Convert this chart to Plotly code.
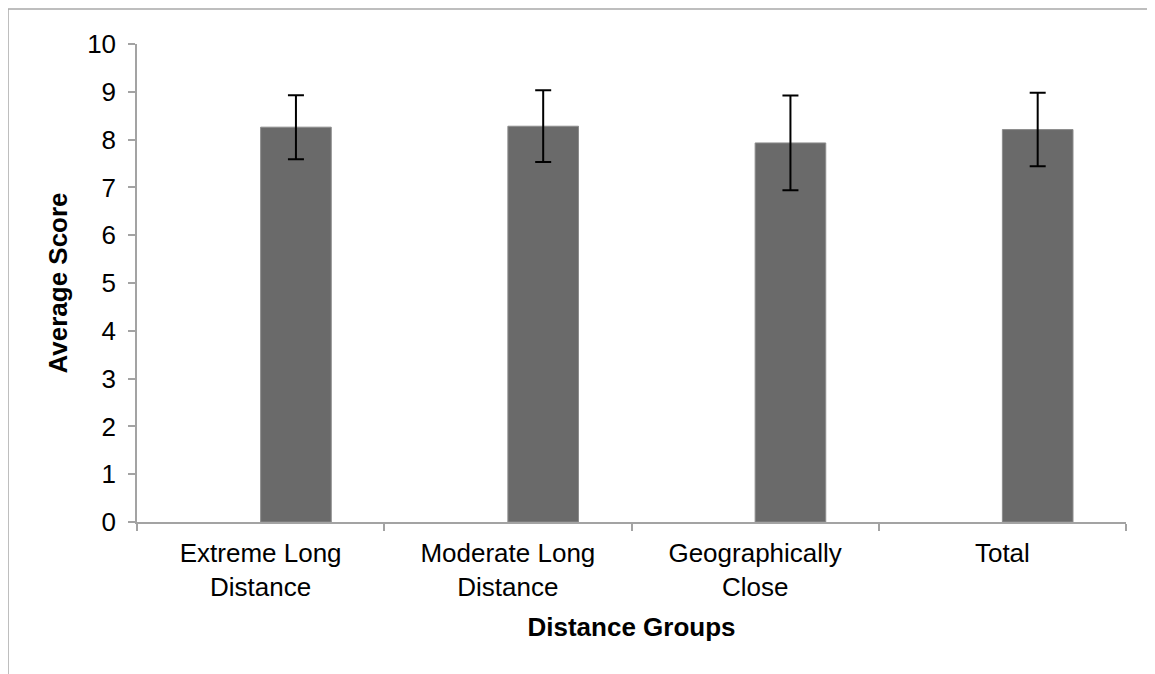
import plotly.graph_objects as go

categories = ["Extreme Long<br>Distance", "Moderate Long<br>Distance", "Geographically<br>Close", "Total"]
averages = [8.26, 8.28, 7.93, 8.21]
errors = [0.67, 0.75, 0.99, 0.77]

FONT = "Liberation Sans, Arial, Helvetica, sans-serif"
AXIS_GRAY = "#a3a3a3"

fig = go.Figure()
fig.add_trace(go.Bar(
    x=categories,
    y=averages,
    width=0.2857,
    offset=0,
    marker=dict(color="#6a6a6a", line=dict(color="#8c8c8c", width=1)),
    error_y=dict(type="data", array=errors, visible=True, color="black", thickness=2, width=8),
    showlegend=False,
))

# page renders with an 8px body margin; compensate so the picture lands where the reference is
SHIFT = 8
W, H = 1155, 674
L, R, T, B = 137 - SHIFT, 29 + SHIFT, 44 - SHIFT, 152 + SHIFT
pw, ph = W - L - R, H - T - B

def px_to_paper_x(px):
    return (px - SHIFT - L) / pw

def px_to_paper_y(py):
    return (H - B - (py - SHIFT)) / ph

fig.update_layout(
    width=W, height=H,
    margin=dict(l=L, r=R, t=T, b=B, autoexpand=False),
    paper_bgcolor="white", plot_bgcolor="white",
    font=dict(family=FONT, size=26, color="black"),
    xaxis=dict(
        showgrid=False, zeroline=False,
        showline=True, linecolor=AXIS_GRAY, linewidth=1.5,
        ticks="outside", tickson="boundaries", ticklen=7, tickcolor=AXIS_GRAY, tickwidth=1.5,
        tickfont=dict(size=26), ticklabelstandoff=7,
        title=dict(text="<b>Distance Groups</b>", font=dict(size=26), standoff=17),
    ),
    yaxis=dict(
        range=[0, 10], dtick=1, showgrid=False, zeroline=False,
        showline=True, linecolor=AXIS_GRAY, linewidth=1.5,
        ticks="outside", ticklen=7, tickcolor=AXIS_GRAY, tickwidth=1.5,
        tickfont=dict(size=26), ticklabelstandoff=7,
        title=dict(text="<b>Average Score</b>", font=dict(size=26), standoff=12),
    ),
    shapes=[
        dict(type="line", xref="paper", yref="paper",
             x0=px_to_paper_x(8), x1=px_to_paper_x(1200),
             y0=px_to_paper_y(9), y1=px_to_paper_y(9),
             line=dict(color="#a8a8a8", width=1.5)),
        dict(type="line", xref="paper", yref="paper",
             x0=px_to_paper_x(8), x1=px_to_paper_x(8),
             y0=px_to_paper_y(9), y1=px_to_paper_y(720),
             line=dict(color="#a8a8a8", width=1.5)),
    ],
)

fig.write_html("out.html")
